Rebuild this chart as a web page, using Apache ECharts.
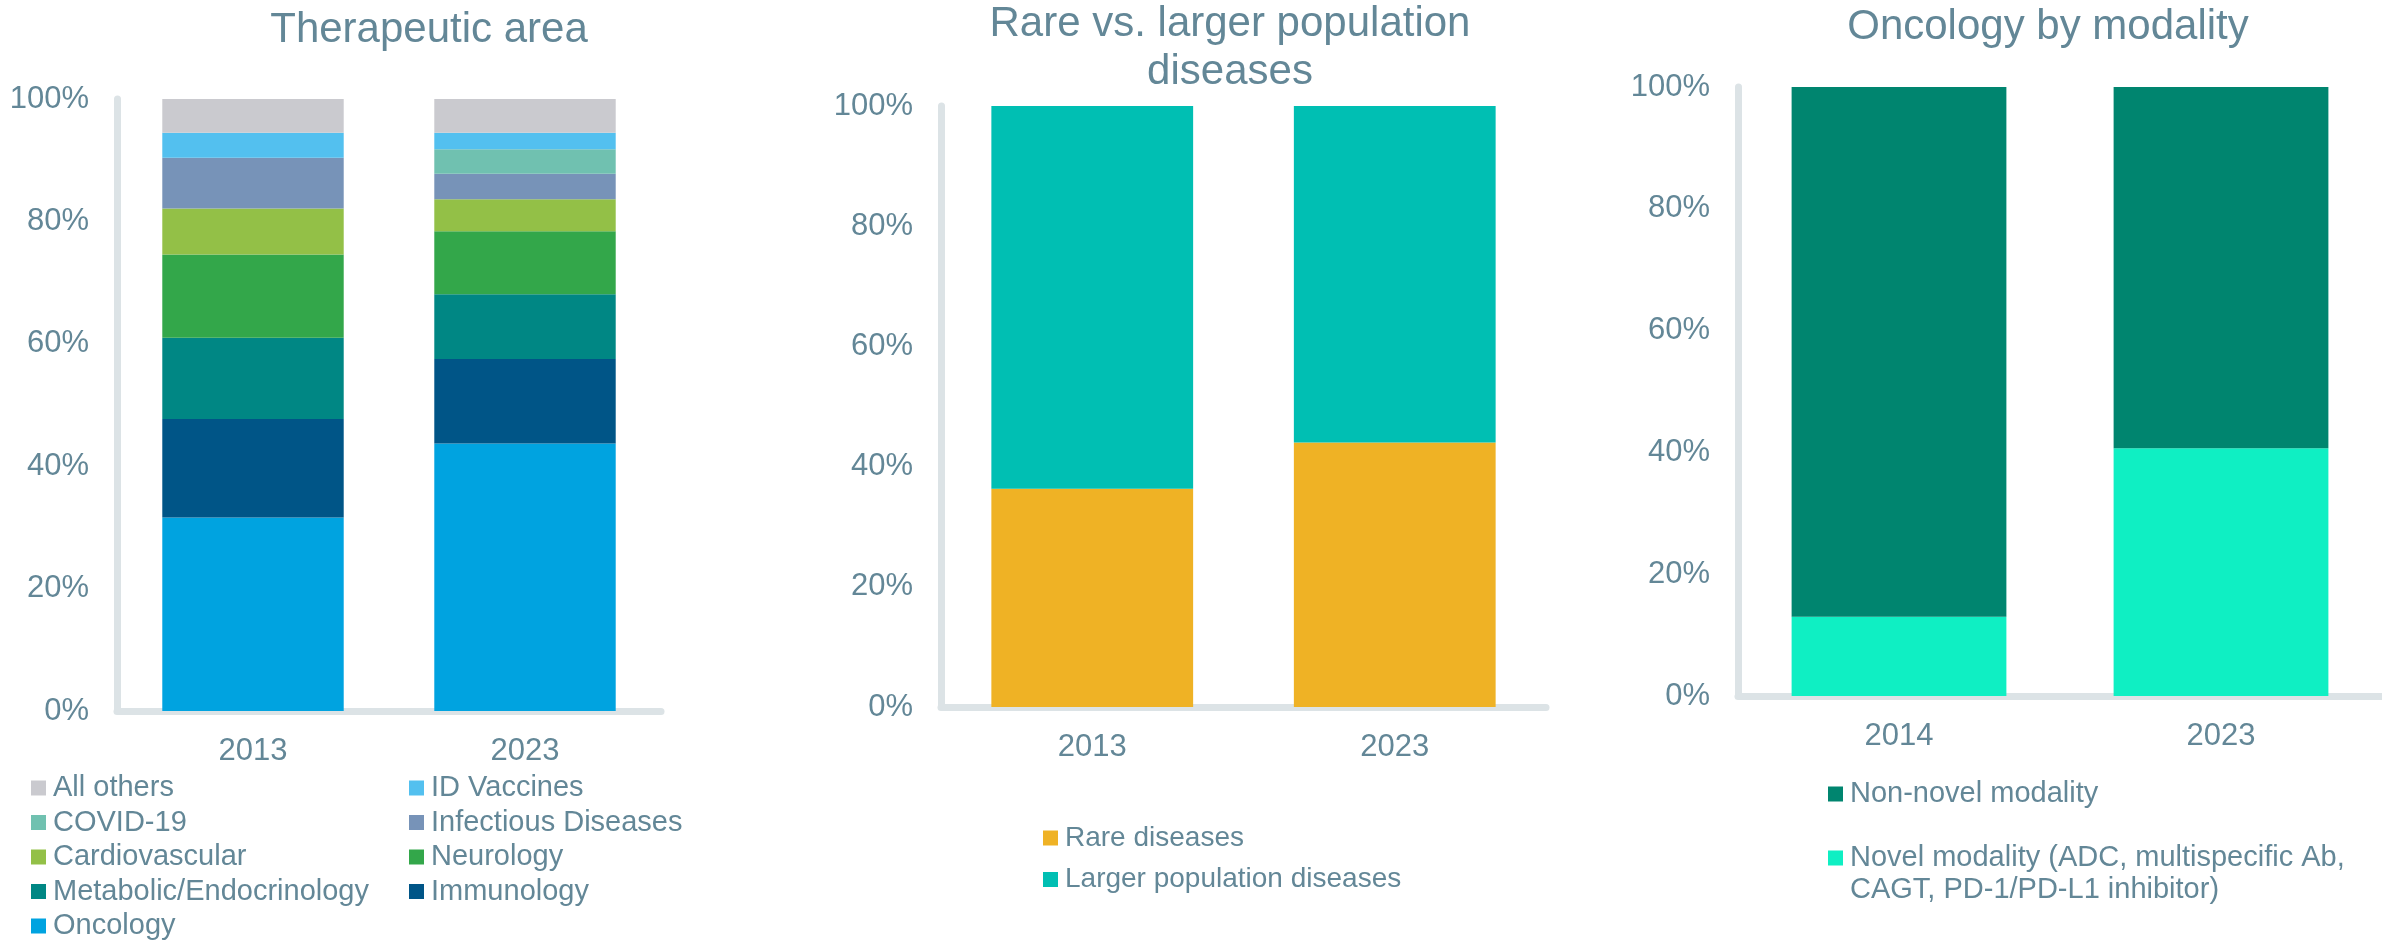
<!DOCTYPE html>
<html>
<head>
<meta charset="utf-8">
<title>Approvals mix</title>
<script src="https://cdn.jsdelivr.net/npm/echarts@6/dist/echarts.min.js"></script>
<style>
  html, body { margin: 0; padding: 0; background: #ffffff; }
  #chart { width: 2382px; height: 944px; }
</style>
</head>
<body>
<div id="chart"></div>
<script>
// ---- Therapeutic area (share of approvals, %) ----
const taYears = ['2013', '2023'];
const oncology = [31.6, 43.7];
const immunology = [16.1, 13.8];
const metabolic = [13.3, 10.6];
const neurology = [13.6, 10.3];
const cardiovascular = [7.5, 5.2];
const infectious = [8.3, 4.2];
const covid19 = [0, 4.0];
const idVaccines = [4.1, 2.7];
const allOthers = [5.5, 5.5];

// ---- Rare vs. larger population diseases (%) ----
const rareYears = ['2013', '2023'];
const rareDiseases = [36.3, 44.0];
const largerDiseases = [63.7, 56.0];

// ---- Oncology by modality (%) ----
const oncYears = ['2014', '2023'];
const novelModality = [13.0, 40.7];
const nonNovelModality = [87.0, 59.3];

const pctTicks = [0, 20, 40, 60, 80, 100];

const FONT = '"Liberation Sans", Arial, Helvetica, sans-serif';
const TEXT = '#638797';
const AXIS = '#DCE3E6';

const NAME_NOVEL = 'Novel modality (ADC, multispecific Ab, CAGT, PD-1/PD-L1 inhibitor)';

function valueAxis(gridIndex) {
  return {
    type: 'value', gridIndex: gridIndex,
    min: pctTicks[0], max: pctTicks[pctTicks.length - 1],
    interval: pctTicks[1] - pctTicks[0],
    axisLine: { show: true, lineStyle: { color: AXIS, width: 7 } },
    axisTick: { show: false },
    splitLine: { show: false },
    axisLabel: { formatter: '{value}%', color: TEXT, fontSize: 31, fontFamily: FONT, margin: 28 }
  };
}

function categoryAxis(gridIndex, data) {
  return {
    type: 'category', gridIndex: gridIndex, data: data,
    offset: 4,
    axisLine: { show: true, lineStyle: { color: AXIS, width: 7 } },
    axisTick: { show: false },
    axisLabel: { color: TEXT, fontSize: 31, fontFamily: FONT, margin: 21 }
  };
}

function bar(name, data, color, axisIndex, stack) {
  return {
    type: 'bar', name: name, data: data, stack: stack,
    xAxisIndex: axisIndex, yAxisIndex: axisIndex,
    barWidth: '66.7%',
    itemStyle: { color: color },
    emphasis: { disabled: true }
  };
}

function legendBlock(left, top, names, fontSize, lineHeight, gap, formatter) {
  const l = {
    orient: 'vertical', left: left, top: top, padding: 0,
    itemWidth: 15, itemHeight: 15, itemGap: gap,
    icon: 'rect', data: names, selectedMode: false,
    textStyle: { color: TEXT, fontSize: fontSize, fontFamily: FONT, lineHeight: lineHeight, padding: [0, 0, 0, 2] }
  };
  if (formatter) l.formatter = formatter;
  return l;
}

const option = {
  backgroundColor: '#ffffff',
  animation: false,
  title: [
    { text: 'Therapeutic area', left: 429, top: 6, textAlign: 'center', padding: 0,
      textStyle: { color: TEXT, fontSize: 42, fontWeight: 'normal', fontFamily: FONT, lineHeight: 48 } },
    { text: 'Rare vs. larger population\ndiseases', left: 1230, top: 0, textAlign: 'center', padding: 0,
      textStyle: { color: TEXT, fontSize: 42, fontWeight: 'normal', fontFamily: FONT, lineHeight: 48 } },
    { text: 'Oncology by modality', left: 2048, top: 3, textAlign: 'center', padding: 0,
      textStyle: { color: TEXT, fontSize: 42, fontWeight: 'normal', fontFamily: FONT, lineHeight: 48 } }
  ],
  grid: [
    { left: 117, top: 99, width: 544, height: 612, containLabel: false },
    { left: 941, top: 106, width: 605, height: 601, containLabel: false },
    { left: 1738, top: 87, width: 648, height: 609, containLabel: false }
  ],
  xAxis: [categoryAxis(0, taYears), categoryAxis(1, rareYears), categoryAxis(2, oncYears)],
  yAxis: [valueAxis(0), valueAxis(1), valueAxis(2)],
  legend: [
    legendBlock(31, 773, ['All others', 'COVID-19', 'Cardiovascular', 'Metabolic/Endocrinology', 'Oncology'], 29, 30, 4.5),
    legendBlock(409, 773, ['ID Vaccines', 'Infectious Diseases', 'Neurology', 'Immunology'], 29, 30, 4.5),
    legendBlock(1043, 823, ['Rare diseases', 'Larger population diseases'], 28, 30, 11.5),
    legendBlock(1828, 778, ['Non-novel modality'], 29, 32, 0),
    legendBlock(1828, 842, [NAME_NOVEL], 29, 32, 0, function () { return 'Novel modality (ADC, multispecific Ab,'; })
  ],
  graphic: [
    { type: 'text', left: 1850, top: 874, silent: true,
      style: { text: 'CAGT, PD-1/PD-L1 inhibitor)', fill: TEXT, font: '29px ' + FONT, lineHeight: 32 } }
  ],
  series: [
    // stacked from the bottom up
    bar('Oncology', oncology, '#00A3E0', 0, 'ta'),
    bar('Immunology', immunology, '#005587', 0, 'ta'),
    bar('Metabolic/Endocrinology', metabolic, '#008784', 0, 'ta'),
    bar('Neurology', neurology, '#33A74A', 0, 'ta'),
    bar('Cardiovascular', cardiovascular, '#93C047', 0, 'ta'),
    bar('Infectious Diseases', infectious, '#7793B8', 0, 'ta'),
    bar('COVID-19', covid19, '#70C1B0', 0, 'ta'),
    bar('ID Vaccines', idVaccines, '#53C0EF', 0, 'ta'),
    bar('All others', allOthers, '#CACACF', 0, 'ta'),

    bar('Rare diseases', rareDiseases, '#EFB225', 1, 'rare'),
    bar('Larger population diseases', largerDiseases, '#00BFB3', 1, 'rare'),

    bar(NAME_NOVEL, novelModality, '#0FEFC3', 2, 'onc'),
    bar('Non-novel modality', nonNovelModality, '#00856F', 2, 'onc')
  ]
};

const chart = echarts.init(document.getElementById('chart'), null, { renderer: 'canvas' });
chart.setOption(option);
</script>
</body>
</html>
